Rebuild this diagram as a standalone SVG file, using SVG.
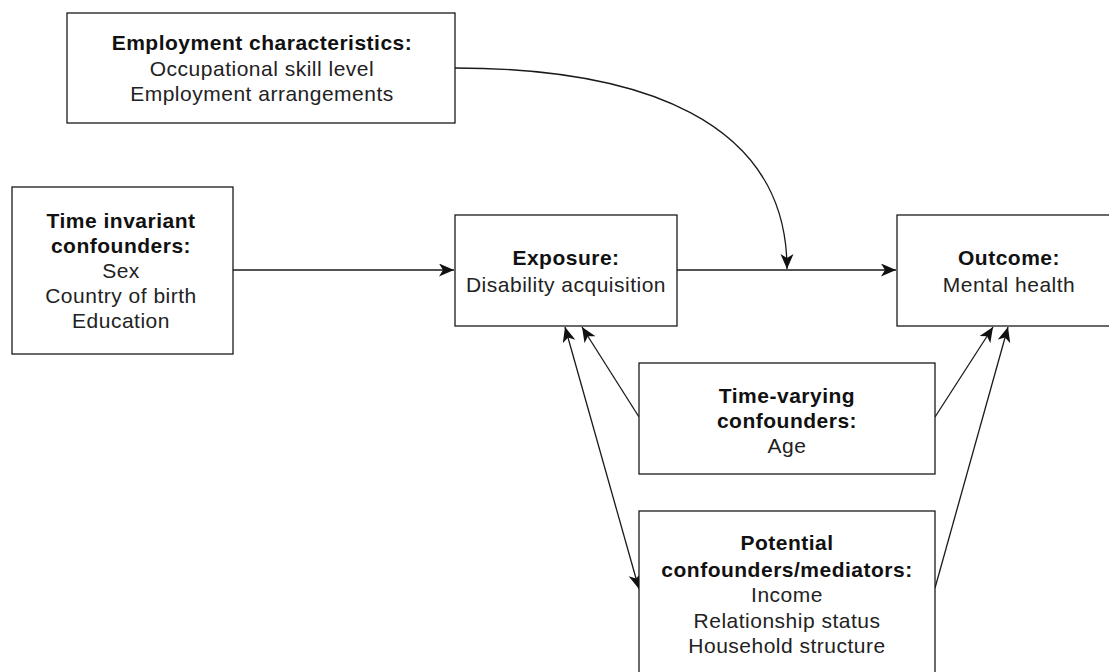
<svg xmlns="http://www.w3.org/2000/svg" width="1109" height="672" viewBox="0 0 1109 672">
  <style>
    .box { fill: #ffffff; stroke: #1a1a1a; stroke-width: 1.3; }
    .edge { fill: none; stroke: #1a1a1a; stroke-width: 1.3; }
    text { font-family: "Liberation Sans", Arial, Helvetica, sans-serif; font-size: 21px; letter-spacing: 0.5px; text-anchor: middle; fill: #222222; }
    .b { font-weight: bold; fill: #111111; }
  </style>
  <defs>
    <marker id="arrow" markerUnits="userSpaceOnUse" markerWidth="17" markerHeight="14" refX="15" refY="6.5" orient="auto-start-reverse">
      <path d="M0,0 L15,6.5 L0,13 L4,6.5 Z" fill="#111111"/>
    </marker>
  </defs>

  <!-- connectors -->
  <g id="connectors">
    <path class="edge" d="M233,270 L454,270" marker-end="url(#arrow)"/>
    <path class="edge" d="M677,270 L896,270" marker-end="url(#arrow)"/>
    <path class="edge" d="M455,68 C640,68 787,120 787,269" marker-end="url(#arrow)"/>
    <path class="edge" d="M639,417 L582,327" marker-end="url(#arrow)"/>
    <path class="edge" d="M935,417 L993,327" marker-end="url(#arrow)"/>
    <path class="edge" d="M565,327 L639,589" marker-start="url(#arrow)" marker-end="url(#arrow)"/>
    <path class="edge" d="M935,588 L1008,327" marker-end="url(#arrow)"/>
  </g>

  <g id="employment">
    <rect class="box" x="67" y="13" width="388" height="110"/>
    <text class="b" x="262" y="50">Employment characteristics:</text>
    <text x="262" y="76">Occupational skill level</text>
    <text x="262" y="101">Employment arrangements</text>
  </g>

  <g id="time-invariant">
    <rect class="box" x="12" y="187" width="221" height="167"/>
    <text class="b" x="121" y="228">Time invariant</text>
    <text class="b" x="121" y="253">confounders:</text>
    <text x="121" y="278">Sex</text>
    <text x="121" y="303">Country of birth</text>
    <text x="121" y="328">Education</text>
  </g>

  <g id="exposure">
    <rect class="box" x="455" y="215" width="222" height="111"/>
    <text class="b" x="566" y="265">Exposure:</text>
    <text x="566" y="292">Disability acquisition</text>
  </g>

  <g id="outcome">
    <rect class="box" x="897" y="215" width="224" height="111"/>
    <text class="b" x="1009" y="265">Outcome:</text>
    <text x="1009" y="292">Mental health</text>
  </g>

  <g id="time-varying">
    <rect class="box" x="639" y="363" width="296" height="111"/>
    <text class="b" x="787" y="403">Time-varying</text>
    <text class="b" x="787" y="428">confounders:</text>
    <text x="787" y="453">Age</text>
  </g>

  <g id="potential">
    <rect class="box" x="639" y="511" width="296" height="180"/>
    <text class="b" x="787" y="550">Potential</text>
    <text class="b" x="787" y="577">confounders/mediators:</text>
    <text x="787" y="602">Income</text>
    <text x="787" y="628">Relationship status</text>
    <text x="787" y="653">Household structure</text>
  </g>
</svg>
